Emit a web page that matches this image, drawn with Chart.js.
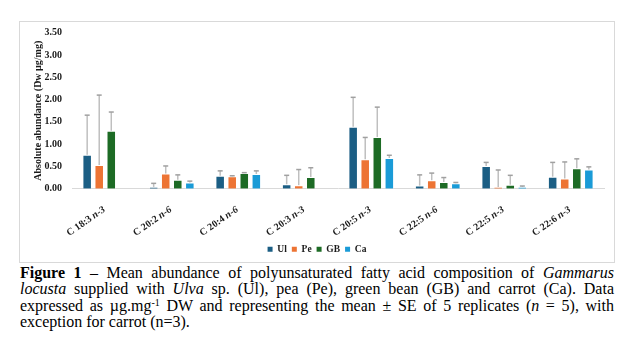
<!DOCTYPE html>
<html>
<head>
<meta charset="utf-8">
<script src="https://cdn.jsdelivr.net/npm/chart.js@4.4.1/dist/chart.umd.min.js"></script>
<style>
  html, body { margin: 0; padding: 0; background: #fff; }
  body { width: 636px; height: 362px; position: relative; overflow: hidden; }
  #frame { position: absolute; left: 19px; top: 21px; width: 594px; height: 240px; border: 1px solid #d9d9d9; }
  #wrap { position: absolute; left: 20px; top: 22px; width: 594px; height: 242px; }
  #caption { position: absolute; left: 20px; top: 265px; width: 594px;
    font-family: "Liberation Serif", "Times New Roman", serif; font-size: 16px; line-height: 16.3px; color: #000; }
  #caption .ln { text-align: justify; text-align-last: justify; }
  #caption .ln.last { text-align-last: left; }
  #caption .sup { position: relative; top: -5px; font-size: 10px; line-height: 0; }
</style>
</head>
<body>
<div id="frame"></div>
<div id="wrap"><canvas id="c" width="594" height="242"></canvas></div>
<div id="caption">
  <div class="ln"><b>Figure 1</b> – Mean abundance of polyunsaturated fatty acid composition of <i>Gammarus</i></div>
  <div class="ln"><i>locusta</i> supplied with <i>Ulva</i> sp. (Ul), pea (Pe), green bean (GB) and carrot (Ca). Data</div>
  <div class="ln">expressed as µg.mg<span class="sup">-1</span> DW and representing the mean ± SE of 5 replicates (<i>n</i> = 5), with</div>
  <div class="ln last">exception for carrot (n=3).</div>
</div>
<script>
// ---- data ----
const categories = ['C 18:3 n-3', 'C 20:2 n-6', 'C 20:4 n-6', 'C 20:3 n-3', 'C 20:5 n-3', 'C 22:5 n-6', 'C 22:5 n-3', 'C 22:6 n-3'];
const seriesNames = ['Ul', 'Pe', 'GB', 'Ca'];
const ulValues = [0.76, 0.04, 0.29, 0.10, 1.39, 0.07, 0.51, 0.27];
const peValues = [0.53, 0.34, 0.28, 0.08, 0.66, 0.19, 0.04, 0.23];
const gbValues = [1.30, 0.20, 0.35, 0.26, 1.16, 0.15, 0.09, 0.46];
const caValues = [null, 0.14, 0.33, null, 0.69, 0.12, 0.04, 0.43];
const ulSE = [0.89, 0.08, 0.11, 0.20, 0.66, 0.24, 0.08, 0.32];
const peSE = [1.57, 0.17, 0.01, 0.35, 0.49, 0.16, 0.38, 0.37];
const gbSE = [0.42, 0.11, 0.01, 0.21, 0.67, 0.10, 0.21, 0.21];
const caSE = [null, 0.03, 0.07, null, 0.06, 0.02, 0.02, 0.06];
const yTicks = [0, 0.5, 1.0, 1.5, 2.0, 2.5, 3.0, 3.5];
const yTitle = 'Absolute abundance (Dw µg/mg)';

const colors = ['#1b5e84', '#ed7434', '#1d6b25', '#1a9bd7'];
const values = [ulValues, peValues, gbValues, caValues];
const errors = [ulSE, peSE, gbSE, caSE];
const FONT = '"Liberation Serif", "Times New Roman", serif';

const errorBars = {
  id: 'errorBars',
  afterDatasetsDraw(chart) {
    const ctx = chart.ctx, y = chart.scales.y;
    chart.data.datasets.forEach((ds, di) => {
      const meta = chart.getDatasetMeta(di);
      meta.data.forEach((bar, i) => {
        const v = ds.data[i], e = ds.se[i];
        if (v == null || e == null) return;
        const y0 = y.getPixelForValue(v), y1 = y.getPixelForValue(v + e);
        ctx.save();
        ctx.strokeStyle = '#bfbfbf'; ctx.lineWidth = 1.5;
        ctx.beginPath(); ctx.moveTo(bar.x, y0); ctx.lineTo(bar.x, y1); ctx.stroke();
        ctx.strokeStyle = '#a0a0a0';
        ctx.beginPath(); ctx.moveTo(bar.x - 2.5, y1); ctx.lineTo(bar.x + 2.5, y1); ctx.stroke();
        ctx.restore();
      });
    });
  }
};

const xLabels = {
  id: 'xLabels',
  afterDraw(chart) {
    const ctx = chart.ctx, xs = chart.scales.x;
    const axisY = chart.chartArea.bottom;
    ctx.save();
    ctx.fillStyle = '#1a1a1a';
    ctx.textBaseline = 'middle';
    categories.forEach((lab, i) => {
      const k = lab.lastIndexOf(' ');
      const base = lab.slice(0, k + 1), suf = lab.slice(k + 1);
      const x = xs.getPixelForValue(i);
      ctx.save();
      ctx.translate(x - 1, axisY + 20);
      ctx.rotate(-35 * Math.PI / 180);
      ctx.textAlign = 'right';
      ctx.font = 'italic bold 10px ' + FONT;
      const w = ctx.measureText(suf).width;
      ctx.fillText(suf, 0, 0);
      ctx.font = 'bold 10px ' + FONT;
      ctx.fillText(base, -w, 0);
      ctx.restore();
    });
    ctx.restore();
  }
};

new Chart(document.getElementById('c'), {
  type: 'bar',
  data: {
    labels: categories,
    datasets: seriesNames.map((n, k) => ({
      label: n,
      data: values[k],
      se: errors[k],
      backgroundColor: colors[k],
      borderColor: 'rgba(255,255,255,0.35)',
      borderWidth: 1,
      categoryPercentage: 0.725,
      barPercentage: 0.79
    }))
  },
  options: {
    responsive: false,
    animation: false,
    devicePixelRatio: 1,
    layout: { padding: { left: 0, right: 0, top: 10.7, bottom: 0 } },
    plugins: {
      tooltip: { enabled: false },
      legend: {
        position: 'bottom',
        labels: {
          boxWidth: 5, boxHeight: 5, padding: 5, color: '#1a1a1a',
          font: { family: FONT, size: 9.5, weight: 'bold' },
          generateLabels: (chart) => Chart.defaults.plugins.legend.labels.generateLabels(chart)
            .map(l => Object.assign(l, { lineWidth: 0, strokeStyle: l.fillStyle }))
        }
      }
    },
    scales: {
      x: {
        grid: { display: false, drawTicks: false },
        border: { display: true, color: '#d9d9d9', width: 1 },
        ticks: { display: false },
        afterFit: (s) => { s.height = 50.8; s.paddingLeft = 0; s.paddingRight = 10; }
      },
      y: {
        min: 0, max: 3.5,
        grid: { display: false, drawTicks: false },
        border: { display: false },
        afterBuildTicks: (s) => { s.ticks = yTicks.map(v => ({ value: v })); },
        ticks: {
          padding: 10, color: '#1a1a1a',
          font: { family: FONT, size: 10, weight: 'bold' },
          callback: (v) => Number(v).toFixed(2)
        },
        title: {
          display: true, text: yTitle, color: '#1a1a1a',
          font: { family: FONT, size: 10, weight: 'bold' },
          padding: { top: 12, bottom: 0 }
        },
        afterFit: (s) => { s.width = 52; s.paddingTop = 0; s.paddingBottom = 0; }
      }
    }
  },
  plugins: [errorBars, xLabels]
});
</script>
</body>
</html>
